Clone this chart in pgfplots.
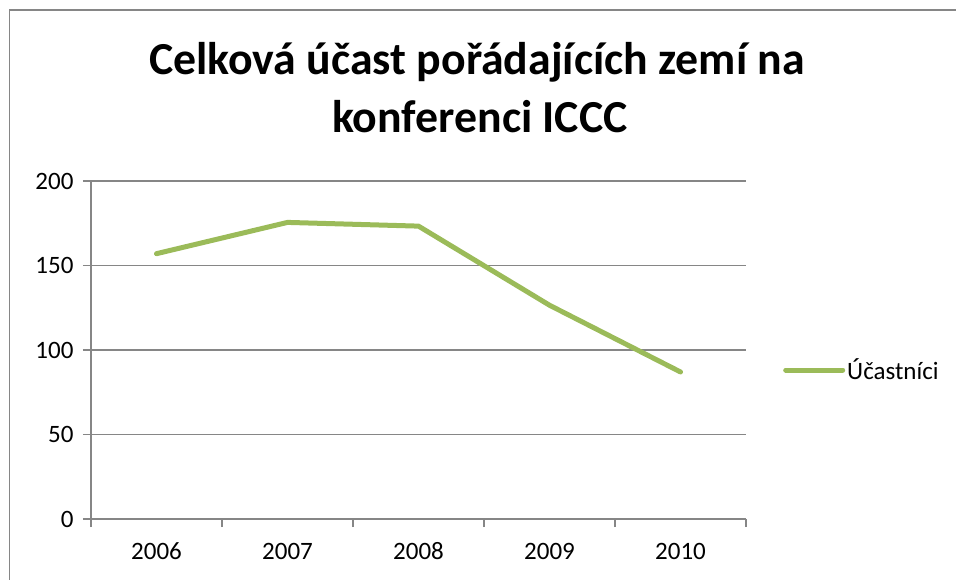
\documentclass[border=0pt]{standalone}
\usepackage{pgfplots}
\pgfplotsset{compat=1.18}
\usepackage{fontspec}
\setmainfont{Carlito}
\definecolor{linegreen}{HTML}{9BBB59}
\definecolor{gridgray}{HTML}{868686}
\begin{document}
\begin{tikzpicture}[x=1pt,y=1pt]
\useasboundingbox (0,0) rectangle (956,579);
\clip (0,0) rectangle (956,579);
\draw[gridgray, line width=1.3pt] (9.5,-20) -- (9.5,569) -- (990,569);
\node[font=\fontsize{45.8}{58}\selectfont\bfseries, anchor=base] at (477,504) {Celková účast pořádajících zemí na};
\node[font=\fontsize{45.8}{58}\selectfont\bfseries, anchor=base] at (480,446) {konferenci ICCC};
\begin{axis}[
  at={(91pt,60pt)}, anchor=south west,
  scale only axis, width=655pt, height=338pt,
  xmin=-0.5, xmax=4.5, ymin=0, ymax=200,
  xtick={0,1,2,3,4}, xticklabels={2006,2007,2008,2009,2010},
  minor xtick={-0.5,0.5,1.5,2.5,3.5,4.5},
  ytick={0,50,100,150,200},
  axis x line*=bottom, axis y line*=left,
  axis line style={gridgray, line width=1.2pt},
  tick align=outside,
  major tick length=8pt, minor tick length=8pt,
  major x tick style={draw=none},
  tick style={gridgray, line width=1.2pt},
  ymajorgrids, grid style={gridgray, line width=1.2pt},
  /pgf/number format/assume math mode=true,
  tick label style={font=\fontsize{25}{29}\selectfont},
  yticklabel style={xshift=-6pt},
  xticklabel style={text height=17pt, text depth=0pt, yshift=-12pt},
  legend style={at={(1,0.5)}, anchor=west, xshift=37pt, yshift=-20pt, draw=none, fill=none,
    font=\fontsize{25}{29}\selectfont, inner sep=0pt, nodes={inner sep=2pt}},
  legend image code/.code={\draw[#1] (0pt,0pt) -- (57pt,0pt);},
]
\addplot[linegreen, line width=5pt, line join=round, line cap=round] coordinates {
  (0,157) (1,175.5) (2,173.3) (3,126.5) (4,87)
};
\addlegendentry{Účastníci}
\end{axis}
\end{tikzpicture}
\end{document}
